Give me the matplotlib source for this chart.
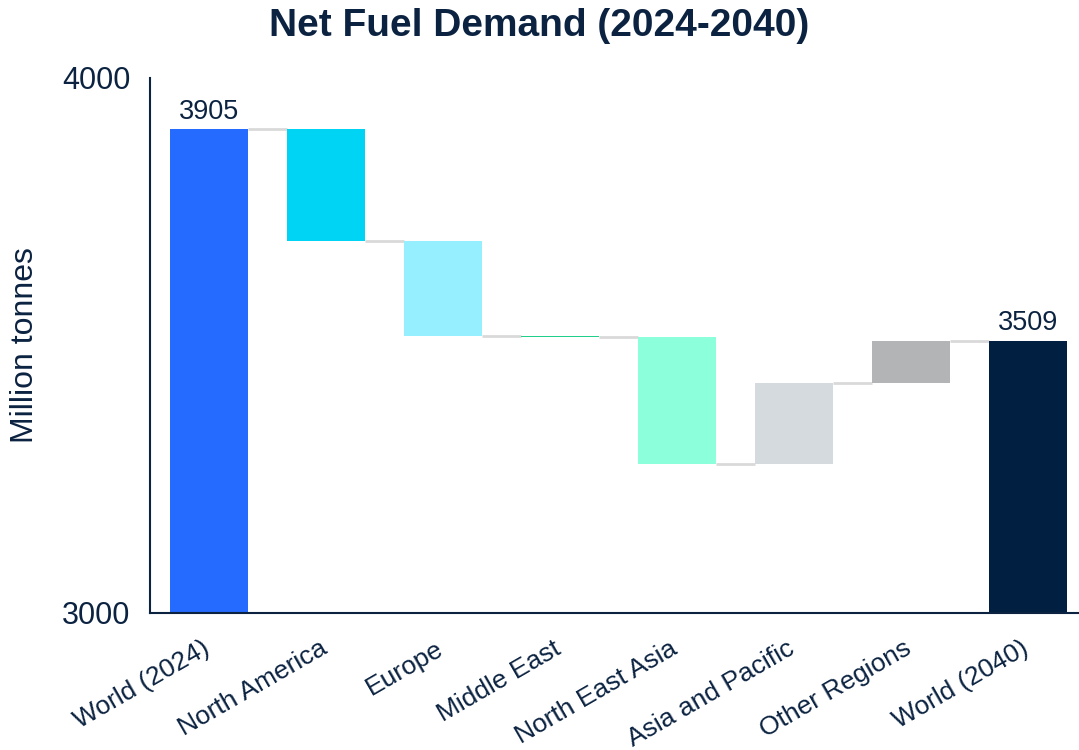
import numpy as np
import matplotlib.pyplot as plt
import matplotlib.transforms as mtransforms

plt.rcParams['font.family'] = ['Liberation Sans', 'DejaVu Sans']

# regional change in fuel demand between the two world totals (Mt)
categories = ['World (2024)', 'North America', 'Europe', 'Middle East',
              'North East Asia', 'Asia and Pacific', 'Other Regions', 'World (2040)']
start_total = 3905
changes = [-210, -177, -2, -237, 151, 79]
end_total = 3509
colors = ['#266bff', '#00d4f5', '#96efff', '#1fcf8a',
          '#8cffdb', '#d5dadf', '#b3b4b6', '#001f41']

navy = '#0b2341'
base = 3000

running = start_total + np.concatenate([[0], np.cumsum(changes)])
bottoms = [base]
heights = [start_total - base]
for i, c in enumerate(changes):
    lo = min(running[i], running[i + 1])
    bottoms.append(lo)
    heights.append(max(abs(c), 1.5))
bottoms.append(base)
heights.append(end_total - base)
levels = list(running) + [end_total]

fig = plt.figure(figsize=(10.79, 7.5), dpi=100)
ax = fig.add_axes([0.139, 0.183, 0.861, 0.713])

x = np.arange(len(categories))
w = 0.667
ax.bar(x, heights, bottom=bottoms, width=w, color=colors, zorder=2)

# connector lines between neighbouring bars
for i in range(len(categories) - 1):
    ax.plot([x[i] + w / 2, x[i + 1] - w / 2], [levels[i], levels[i]],
            color='#d9d9d9', lw=2, zorder=1, solid_capstyle='butt')

ax.text(x[0], start_total + 8, f'{start_total}', ha='center', va='bottom',
        fontsize=19.5, color=navy)
ax.text(x[-1], end_total + 8, f'{end_total}', ha='center', va='bottom',
        fontsize=19.5, color=navy)

ax.set_xlim(-0.504, 7.44)
ax.set_ylim(3000, 4000)
ax.set_yticks([3000, 4000])
ax.set_yticklabels(['3000', '4000'], fontsize=22, color=navy)
ax.tick_params(axis='y', length=0, pad=14)
ax.tick_params(axis='x', length=0, pad=17)
ax.set_xticks(x)
ax.set_xticklabels(categories, rotation=30, ha='right', rotation_mode='anchor',
                   fontsize=19, color=navy)
shift = mtransforms.ScaledTranslation(-7 / 100, 0, fig.dpi_scale_trans)
for lbl in ax.get_xticklabels():
    lbl.set_transform(lbl.get_transform() + shift)
ax.set_ylabel('Million tonnes', fontsize=23, color=navy, labelpad=16)

for s in ['top', 'right']:
    ax.spines[s].set_visible(False)
for s in ['left', 'bottom']:
    ax.spines[s].set_color(navy)
    ax.spines[s].set_linewidth(1.5)

fig.text(0.5, 0.965, 'Net Fuel Demand (2024-2040)', ha='center', va='center',
         fontsize=28, fontweight='bold', color=navy)

fig.savefig('out.png', dpi=100)
